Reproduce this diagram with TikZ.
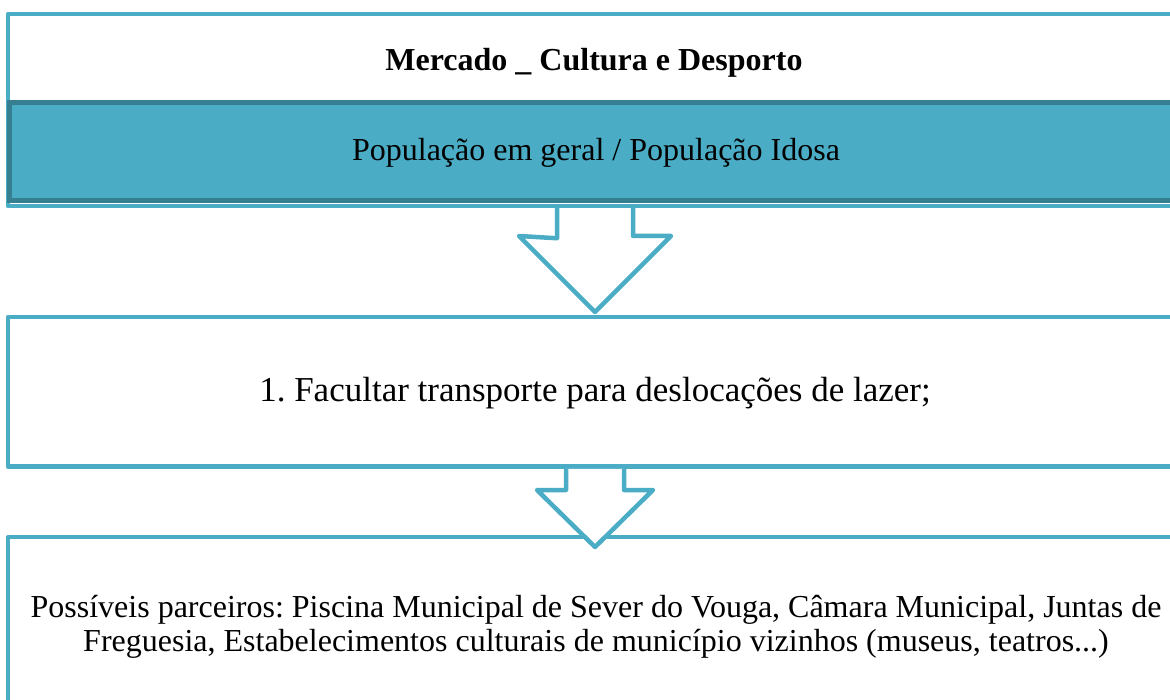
\documentclass[tikz,border=0pt]{standalone}
\usepackage{fontspec}
\setmainfont{Liberation Serif}
\frenchspacing
\definecolor{accent}{HTML}{4BACC6}
\definecolor{accentdark}{HTML}{357F91}
\tikzset{
  frame/.style={draw=accent, line width=4.5pt, fill=white, line join=round, inner sep=0pt},
  band/.style={draw=accentdark, line width=5pt, fill=accent, inner sep=0pt},
  blockarrow/.style={draw=accent, line width=4.5pt, fill=white, line join=round},
  txt/.style={font=\fontsize{32}{34}\selectfont, align=center, inner sep=0pt},
}
\begin{document}
\begin{tikzpicture}[x=1pt,y=-1pt]
\useasboundingbox (0,0) rectangle (1170,700);
\clip (0,0) rectangle (1170,700);
% box 1
\node[frame, minimum width=1174pt, minimum height=192pt] (box1) at (595,110) {};
\node[band, minimum width=1174pt, minimum height=98pt] (band) at (596,151.5) {};
\node[txt, font=\fontsize{32}{34}\selectfont\bfseries, anchor=base] (title) at (594,70.7) {Mercado \_ Cultura e Desporto};
\node[txt, anchor=base] (pop) at (596,160.7) {População em geral / População Idosa};
% box 2
\node[frame, minimum width=1174pt, minimum height=149.5pt] (box2) at (595,391.75) {};
\node[txt, font=\fontsize{35}{38}\selectfont, anchor=base] (step1) at (595,401.7) {1. Facultar transporte para deslocações de lazer;};
% box 3
\node[frame, minimum width=1174pt, minimum height=200pt] (box3) at (595,637) {};
\node[txt] (partners) at (596,627) {Possíveis parceiros: Piscina Municipal de Sever do Vouga, Câmara Municipal, Juntas de\\Freguesia, Estabelecimentos culturais de município vizinhos (museus, teatros...)};
% arrow 1
\coordinate (a1) at (box1.south);
\draw[blockarrow] ([xshift=-38pt]a1) -- ++(0,30) -- (519,236) -- (595,312) -- (671,236) -- (633,236) -- ([xshift=38pt]a1);
% arrow 2
\coordinate (a2) at (box2.south);
\draw[blockarrow] ([xshift=-29pt]a2) -- (566,490) -- (537,490) -- (595,547) -- (653,490) -- (624,490) -- ([xshift=29pt]a2);
\end{tikzpicture}
\end{document}
